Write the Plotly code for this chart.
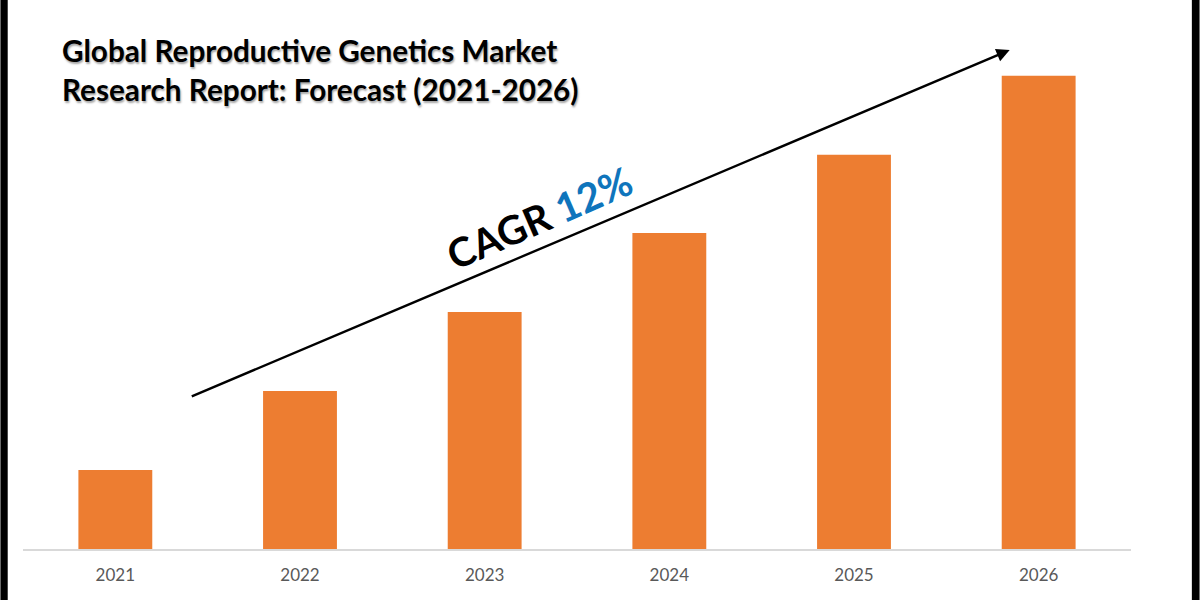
import plotly.graph_objects as go

years = ["2021", "2022", "2023", "2024", "2025", "2026"]
values = [1.0, 2.0, 3.0, 4.0, 4.99, 5.99]
FONT = "Lato, Carlito, Calibri, sans-serif"
W, H = 1200, 600
L, R, BASE = 22.6, 1131.4, 549


def dx(x):
    return (x - L) / (R - L)


def dy(y):
    return 1 - y / BASE


fig = go.Figure(go.Bar(x=years, y=values, width=0.4, marker=dict(color="#ED7D31", line=dict(width=0)), hoverinfo="x+y"))

fig.update_layout(
    width=W, height=H, autosize=False,
    margin=dict(l=L, r=W - R, t=0, b=H - BASE),
    paper_bgcolor="white", plot_bgcolor="white",
    showlegend=False,
    font=dict(family=FONT),
    xaxis=dict(type="category", showgrid=False, ticks="", showline=True, linecolor="#D9D9D9", linewidth=1.5,
               tickfont=dict(size=17, color="#595959", family=FONT), zeroline=False, ticklabelstandoff=10),
    yaxis=dict(range=[0, 6.95], visible=False, fixedrange=True),
    shapes=[
        dict(type="rect", xref="paper", yref="paper", x0=dx(0), x1=dx(7.3), y0=dy(600), y1=1,
             fillcolor="black", line=dict(width=0)),
        dict(type="rect", xref="paper", yref="paper", x0=dx(1192.3), x1=dx(1200), y0=dy(600), y1=1,
             fillcolor="black", line=dict(width=0)),
    ],
    annotations=[
        dict(xref="x domain", yref="y domain", x=dx(59.5), y=dy(70), xanchor="left", yanchor="middle", align="left",
             text="<b>Global Reproductive Genetics Market<br>Research Report: Forecast (2021-2026)</b>",
             showarrow=False, font=dict(size=29.7, color="black", family=FONT, shadow="1px 2px 2px rgba(0,0,0,0.35)")),
        dict(xref="x domain", yref="y domain", x=dx(539), y=dy(218), xanchor="center", yanchor="middle",
             text="<b>CAGR <span style='color:#0F75BC'>12%</span></b>", textangle=-23.5,
             showarrow=False, font=dict(size=40, color="black", family=FONT)),
        dict(xref="x domain", yref="y domain", axref="x domain", ayref="y domain",
             x=dx(1010), y=dy(50), ax=dx(190), ay=dy(397),
             text="", showarrow=True, arrowhead=2, arrowsize=1.1, arrowwidth=2.4, arrowcolor="black"),
    ],
)
fig.write_html(
    "out.html",
    config={"displayModeBar": False},
    post_script="document.body.style.margin='0';document.body.style.overflow='hidden';",
)
